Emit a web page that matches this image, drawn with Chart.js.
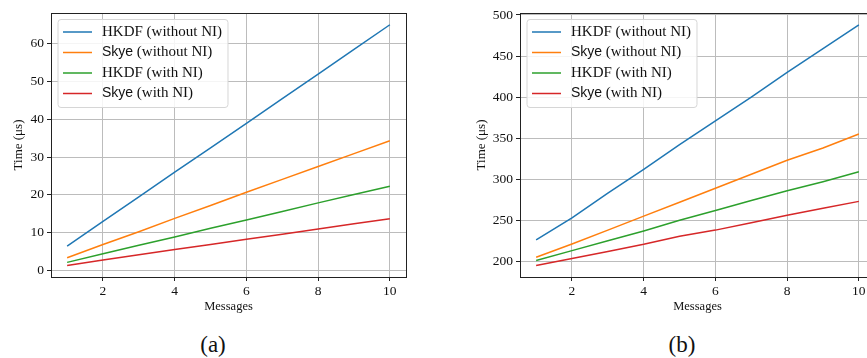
<!DOCTYPE html>
<html>
<head>
<meta charset="utf-8">
<script src="https://cdn.jsdelivr.net/npm/chart.js@4.4.1/dist/chart.umd.min.js"></script>
<style>
  html, body { margin: 0; padding: 0; background: #fff; overflow: hidden; width: 867px; height: 358px; }
  canvas { position: absolute; top: 0; }
  #chartA { left: 0; }
  #chartB { left: 433px; }
  .cap { position: absolute; top: 332px; font-family: "Liberation Serif", serif; font-size: 23px; color: #111; transform: translateX(-50%); }
</style>
</head>
<body>
<canvas id="chartA" width="433" height="320"></canvas>
<canvas id="chartB" width="460" height="320"></canvas>
<div class="cap" style="left:213px">(a)</div>
<div class="cap" style="left:682px">(b)</div>
<script>
// number of messages on the x axis
const messages = [1, 2, 3, 4, 5, 6, 7, 8, 9, 10];
const seriesLabels = ['HKDF (without NI)', 'Skye (without NI)', 'HKDF (with NI)', 'Skye (with NI)'];
const sansWords = ['Skye'];

// (a) times in us
const hkdfNoNiA = [6.5, 13.0, 19.5, 26.0, 32.4, 38.9, 45.4, 51.9, 58.4, 64.9];
const skyeNoNiA = [3.4, 6.9, 10.3, 13.8, 17.2, 20.7, 24.1, 27.5, 30.9, 34.3];
const hkdfNiA = [2.2, 4.5, 6.7, 8.9, 11.2, 13.4, 15.6, 17.9, 20.1, 22.3];
const skyeNiA = [1.4, 2.8, 4.2, 5.6, 6.9, 8.3, 9.6, 11.0, 12.4, 13.7];

// (b) times in us
const hkdfNoNiB = [226, 253, 283, 312, 342, 371, 400, 430, 459, 488];
const skyeNoNiB = [205, 221, 238, 255, 272, 289, 306, 323, 338, 355];
const hkdfNiB = [201, 213, 225, 237, 250, 262, 274, 286, 297, 309];
const skyeNiB = [195, 203.5, 212, 220.7, 230.5, 238, 247, 256, 264.5, 273];

const colors = ['#1f77b4', '#ff7f0e', '#2ca02c', '#d62728'];
const serif = '"Liberation Serif", "DejaVu Serif", serif';
const sans = '"Liberation Sans", "DejaVu Sans", sans-serif';

// box round the plot area, like matplotlib spines
const framePlugin = {
  id: 'frame',
  afterDatasetsDraw(chart) {
    const { ctx, chartArea: a } = chart;
    ctx.save();
    ctx.strokeStyle = '#222';
    ctx.lineWidth = 1;
    ctx.strokeRect(Math.round(a.left) + 0.5, Math.round(a.top) + 0.5,
      Math.round(a.right - a.left), Math.round(a.bottom - a.top));
    ctx.restore();
  }
};

// legend in the top-left corner, "Skye" set in sans as in the paper
const insideLegend = {
  id: 'insideLegend',
  afterDraw(chart) {
    const { ctx, chartArea: a } = chart;
    const sets = chart.data.datasets;
    const x0 = a.left + 7, y0 = a.top + 6.5;
    ctx.save();
    ctx.textBaseline = 'middle';
    let maxW = 0;
    const parts = sets.map(ds => {
      const sp = ds.label.indexOf(' ');
      const first = ds.label.slice(0, sp), rest = ds.label.slice(sp);
      const firstFont = sansWords.includes(first) ? '14px ' + sans : '15px ' + serif;
      ctx.font = firstFont;
      const w1 = ctx.measureText(first).width;
      ctx.font = '15px ' + serif;
      const w2 = ctx.measureText(rest).width;
      maxW = Math.max(maxW, w1 + w2);
      return { first, rest, firstFont, w1 };
    });
    const w = 44 + maxW + 6, h = 88, r = 3;
    ctx.beginPath();
    ctx.moveTo(x0 + r, y0);
    ctx.arcTo(x0 + w, y0, x0 + w, y0 + h, r);
    ctx.arcTo(x0 + w, y0 + h, x0, y0 + h, r);
    ctx.arcTo(x0, y0 + h, x0, y0, r);
    ctx.arcTo(x0, y0, x0 + w, y0, r);
    ctx.closePath();
    ctx.fillStyle = 'rgba(255,255,255,0.85)';
    ctx.fill();
    ctx.strokeStyle = '#d6d6d6';
    ctx.lineWidth = 1;
    ctx.stroke();
    parts.forEach((p, i) => {
      const y = y0 + 12.5 + i * 20.5;
      ctx.strokeStyle = sets[i].borderColor;
      ctx.lineWidth = 1.5;
      ctx.beginPath();
      ctx.moveTo(x0 + 5, y);
      ctx.lineTo(x0 + 34, y);
      ctx.stroke();
      ctx.fillStyle = '#111';
      ctx.font = p.firstFont;
      ctx.fillText(p.first, x0 + 44, y);
      ctx.font = '15px ' + serif;
      ctx.fillText(p.rest, x0 + 44 + p.w1, y);
    });
    ctx.restore();
  }
};

function makeChart(id, series, yMin, yMax, yStep, yWidth, pad, yTitlePad) {
  const datasets = series.map((vals, i) => ({
    label: seriesLabels[i],
    data: messages.map((m, k) => ({ x: m, y: vals[k] })),
    borderColor: colors[i],
    borderWidth: 1.5,
    pointRadius: 0,
    tension: 0
  }));
  return new Chart(document.getElementById(id), {
    type: 'line',
    data: { datasets },
    options: {
      responsive: false,
      animation: false,
      layout: { padding: pad },
      plugins: { legend: { display: false }, tooltip: { enabled: false } },
      scales: {
        x: {
          type: 'linear',
          min: 0.55,
          max: 10.45,
          afterFit: (s) => { s.height = 43; },
          border: { display: false },
          grid: { color: '#bcbcbc', tickColor: '#222', tickLength: 4 },
          ticks: { stepSize: 2, includeBounds: false, padding: 2, color: '#111', maxRotation: 0,
                   font: { family: serif, size: 13.5 } },
          title: { display: true, text: 'Messages', color: '#111',
                   font: { family: serif, size: 12.5, lineHeight: 1 }, padding: { top: 0, bottom: 7.5 } }
        },
        y: {
          min: yMin,
          max: yMax,
          afterFit: (s) => { s.width = yWidth; },
          border: { display: false },
          grid: { color: '#bcbcbc', tickColor: '#222', tickLength: 4 },
          ticks: { stepSize: yStep, includeBounds: false, padding: 3, color: '#111',
                   font: { family: serif, size: 13.5 } },
          title: { display: true, text: 'Time (μs)', color: '#111',
                   font: { family: serif, size: 13, lineHeight: 1 }, padding: { top: yTitlePad, bottom: 0 } }
        }
      }
    },
    plugins: [framePlugin, insideLegend]
  });
}

makeChart('chartA', [hkdfNoNiA, skyeNoNiA, hkdfNiA, skyeNiA], -1.66, 68.0, 10, 51,
  { top: 13, right: 27, left: 0, bottom: 0 }, 12.5);
makeChart('chartB', [hkdfNoNiB, skyeNoNiB, hkdfNiB, skyeNiB], 180.9, 502.4, 50, 87,
  { top: 13, right: 18, left: 0, bottom: 0 }, 42.5);
</script>
</body>
</html>
